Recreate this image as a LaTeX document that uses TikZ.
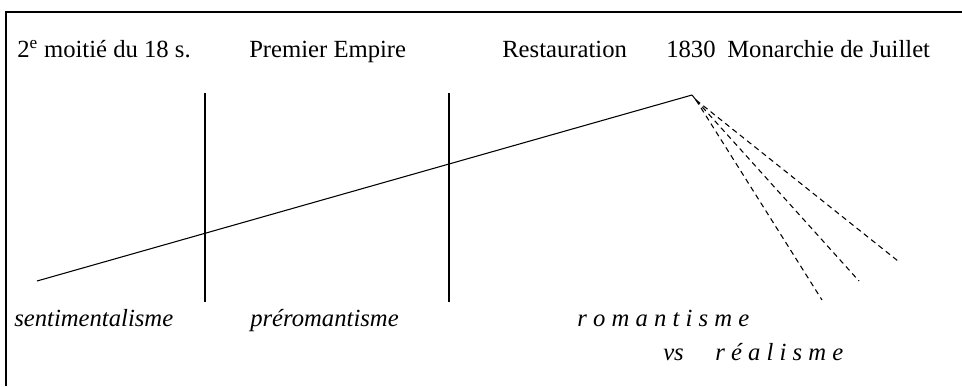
\documentclass[tikz,border=0pt]{standalone}
\usepackage{fontspec}
\setmainfont{Liberation Serif}
\usepackage{tikz}
\usetikzlibrary{calc,positioning}

\tikzset{
    period/.style={anchor=base west, inner sep=0pt, font=\fontsize{18.5}{22}\selectfont},
    movement/.style={anchor=base west, inner sep=0pt, font=\fontsize{18.5}{22}\selectfont\itshape},
    divider/.style={line width=1.1pt},
    branch/.style={dashed, dash pattern=on 4pt off 3pt, line width=0.8pt}
}

\begin{document}
\begin{tikzpicture}[x=0.75pt, y=-0.75pt]
    \useasboundingbox (0,0) rectangle (962,386);

    % Frame (top and left edges only)
    \coordinate (frameBL) at (6,386);
    \coordinate (frameTL) at (6,12);
    \coordinate (frameTR) at (962,12);
    \draw[line width=1.1pt] (frameBL) -- (frameTL) -- (frameTR);

    % Periods
    \node[period] (p18) at (17,57) {2\textsuperscript{e} moitié du 18 s.};
    \node[period] (empire) at (249,57) {Premier Empire};
    \node[period] (restau) at (502,57) {Restauration};
    \node[period] (y1830) at (666,57) {1830};
    \node[period] (juillet) at (727,57) {Monarchie de Juillet};

    % Dividers
    \coordinate (d1top) at (205,93);
    \coordinate (d1bot) at (205,302);
    \coordinate (d2top) at (449,93);
    \coordinate (d2bot) at (449,302);
    \draw[divider] (d1top) -- (d1bot);
    \draw[divider] (d2top) -- (d2bot);

    % Rising line
    \coordinate (start) at (37,281);
    \coordinate (peak) at (692,95);
    \draw[line width=0.8pt] (start) -- (peak);

    % Branches after 1830
    \coordinate (fork) at (696,100);
    \coordinate (b1) at (822,300);
    \coordinate (b2) at (859,281);
    \coordinate (b3) at (898,261);
    \draw[line width=0.8pt] (peak) -- (fork);
    \foreach \b in {b1,b2,b3}
        \draw[branch] (fork) -- (\b);

    % Movements
    \node[movement] (senti) at (14,326) {sentimentalisme};
    \node[movement] (prero) at (250,326) {préromantisme};
    \node[movement] (roman) at (577,326) {r o m a n t i s m e};
    \node[movement] (vs) at (663,360) {vs};
    \node[movement] (real) at (715,360) {r é a l i s m e};
\end{tikzpicture}
\end{document}
